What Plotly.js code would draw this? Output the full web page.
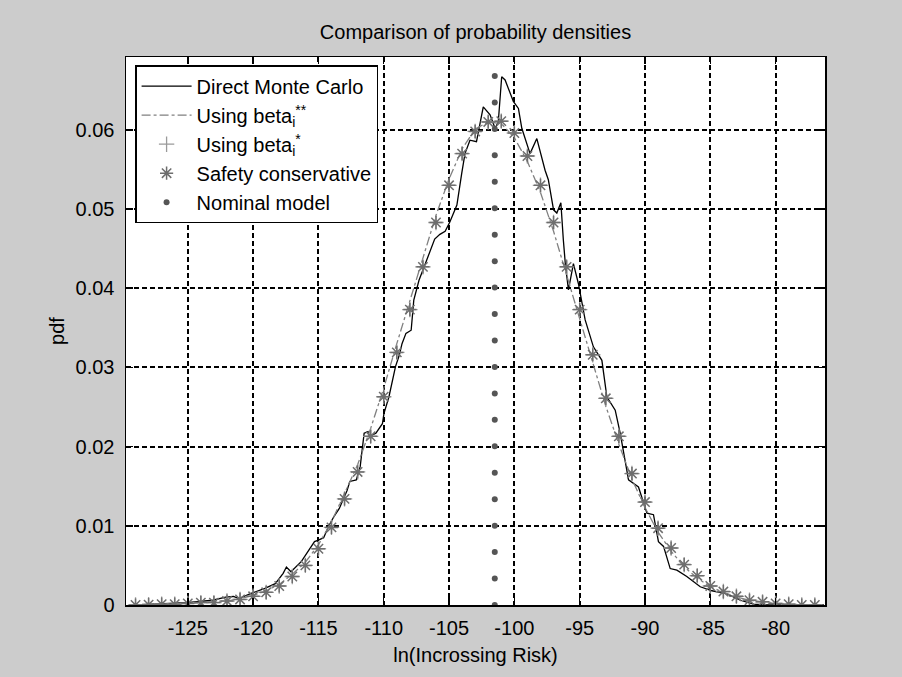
<!DOCTYPE html>
<html>
<head>
<meta charset="utf-8">
<script src="https://cdn.plot.ly/plotly-3.0.1.min.js"></script>
<style>html,body{margin:0;padding:0;background:#cccccc;}#chart{width:902px;height:677px;}</style>
</head>
<body>
<div id="chart"></div>
<script>
// Direct Monte Carlo (solid black line)
const mcX = [-129.0,-127.6,-125.1,-123.1,-122.1,-121.5,-121.1,-120.1,-119.1,-118.3,-117.7,-117.45,-117.1,-116.3,-115.8,-115.3,-115.0,-114.6,-114.2,-113.8,-113.4,-113.1,-112.8,-112.6,-112.1,-111.8,-111.6,-111.5,-111.2,-111.1,-110.6,-110.1,-109.98,-109.6,-109.1,-108.8,-108.6,-108.3,-107.9,-107.8,-107.7,-107.3,-106.9,-106.5,-106.1,-105.7,-105.3,-104.93,-104.4,-104.03,-103.78,-103.4,-102.9,-102.38,-101.86,-101.48,-101.23,-100.97,-100.71,-100.08,-99.69,-99.43,-98.8,-98.28,-97.65,-97.4,-97.0,-96.75,-96.44,-96.25,-96.1,-95.86,-95.48,-95.1,-94.58,-93.95,-93.3,-92.92,-92.28,-91.9,-91.64,-91.26,-90.5,-90.2,-89.85,-89.35,-88.97,-88.58,-88.07,-87.56,-86.8,-85.77,-84.87,-83.72,-82.7,-81.7,-80.5,-78.0,-76.3];
const mcY = [0.0,0.0001,0.0003,0.0006,0.0010,0.0011,0.0008,0.0015,0.0021,0.0027,0.0040,0.0048,0.0042,0.0055,0.0068,0.0080,0.0082,0.0085,0.0100,0.0112,0.0122,0.0133,0.0145,0.0156,0.0158,0.0175,0.0200,0.0217,0.0219,0.0213,0.0217,0.0229,0.0242,0.0263,0.0301,0.0316,0.0330,0.0343,0.0347,0.0368,0.0385,0.0410,0.0428,0.0445,0.0462,0.0468,0.0472,0.0484,0.0505,0.0545,0.0570,0.0587,0.0585,0.0629,0.0619,0.0602,0.0610,0.0667,0.0663,0.0636,0.0627,0.0602,0.0570,0.0589,0.0549,0.0537,0.0499,0.0495,0.0508,0.0461,0.0431,0.0398,0.0431,0.0406,0.0360,0.0326,0.0309,0.0263,0.0246,0.0217,0.0192,0.0158,0.0149,0.0133,0.0116,0.0114,0.0080,0.0074,0.0046,0.0044,0.0036,0.0023,0.0018,0.0014,0.0006,0.0001,0.0,0.0,0.0];

// common abscissa of the model curves
const gridX = [-129,-128,-127,-126,-125,-124,-123,-122,-121,-120,-119,-118,-117,-116,-115,-114,-113,-112,-111,-110,-109,-108,-107,-106,-105,-104,-103,-102,-101,-100,-99,-98,-97,-96,-95,-94,-93,-92,-91,-90,-89,-88,-87,-86,-85,-84,-83,-82,-81,-80,-79,-78,-77];

// Using beta_i** (dash-dot line)
const betaSS = [0.0,0.00005,0.0001,0.0001,0.0002,0.0003,0.0004,0.0005,0.0008,0.0012,0.0018,0.0026,0.0039,0.0054,0.0076,0.0105,0.0141,0.0177,0.0223,0.0274,0.0330,0.0384,0.0438,0.0492,0.0538,0.0576,0.0601,0.0610,0.0608,0.0590,0.0560,0.0521,0.0472,0.0416,0.0362,0.0305,0.0251,0.0203,0.0159,0.0123,0.0092,0.0068,0.0048,0.0034,0.0023,0.0016,0.0010,0.0006,0.0004,0.0002,0.0001,0.0,0.0];

// Using beta_i* (plus markers)
const betaS = [0.0,0.00005,0.0001,0.0001,0.0002,0.0003,0.0003,0.0005,0.0007,0.0011,0.0016,0.0024,0.0036,0.0050,0.0071,0.0098,0.0134,0.0168,0.0213,0.0263,0.0319,0.0373,0.0427,0.0483,0.0530,0.0570,0.0598,0.0610,0.0611,0.0596,0.0567,0.0530,0.0483,0.0427,0.0373,0.0316,0.0261,0.0213,0.0166,0.0130,0.0097,0.0072,0.0051,0.0037,0.0024,0.0017,0.0011,0.0006,0.0004,0.0002,0.0001,0.0,0.0];

// Safety conservative (asterisk markers)
const safety = [0.0,0.00005,0.0001,0.0001,0.0002,0.0003,0.0003,0.0005,0.0007,0.0011,0.0016,0.0024,0.0036,0.0050,0.0071,0.0098,0.0134,0.0168,0.0213,0.0263,0.0319,0.0373,0.0427,0.0483,0.0530,0.0570,0.0598,0.0610,0.0611,0.0596,0.0567,0.0530,0.0483,0.0427,0.0373,0.0316,0.0261,0.0213,0.0166,0.0130,0.0097,0.0072,0.0051,0.0037,0.0024,0.0017,0.0011,0.0006,0.0004,0.0002,0.0001,0.0,0.0];

// Nominal model (vertical column of dots)
const nominalX = -101.5;
const nominalY = [0.0,0.00334,0.00668,0.01002,0.01336,0.0167,0.02004,0.02338,0.02672,0.03006,0.0334,0.03674,0.04008,0.04342,0.04676,0.0501,0.05344,0.05678,0.06012,0.06346,0.0668];

const xTicks = [-125,-120,-115,-110,-105,-100,-95,-90,-85,-80];
const xTickText = ['-125','-120','-115','-110','-105','-100','-95','-90','-85','-80'];
const yTicks = [0,0.01,0.02,0.03,0.04,0.05,0.06];
const yTickText = ['0','0.01','0.02','0.03','0.04','0.05','0.06'];

const FONT = 'Liberation Sans, Arial, Helvetica, sans-serif';
const FS = 20;

const traces = [
  {x: mcX, y: mcY, mode: 'lines', name: 'Direct Monte Carlo',
   line: {color: '#000000', width: 1.3}},
  {x: gridX, y: betaSS, mode: 'lines', name: 'Using beta<sub>i</sub><sup>**</sup>',
   line: {color: '#808080', width: 1.3, dash: 'dashdot'}},
  {x: gridX, y: betaS, mode: 'markers', name: 'Using beta<sub>i</sub><sup>*</sup>',
   marker: {symbol: 'cross-thin-open', size: 11, color: '#9a9a9a', line: {color: '#9a9a9a', width: 1.3}}},
  {x: gridX, y: safety, mode: 'markers', name: 'Safety conservative',
   marker: {symbol: 'asterisk-open', size: 11, color: '#6e6e6e', line: {color: '#6e6e6e', width: 1.5}}},
  {x: nominalY.map(() => nominalX), y: nominalY, mode: 'markers', name: 'Nominal model',
   marker: {symbol: 'circle', size: 6, color: '#555555'}}
];

const layout = {
  width: 902, height: 677,
  paper_bgcolor: '#cccccc',
  plot_bgcolor: '#ffffff',
  margin: {l: 126, r: 77, t: 57, b: 72, pad: 0},
  font: {family: FONT, size: FS, color: '#000000'},
  title: {text: 'Comparison of probability densities', font: {family: FONT, size: FS, color: '#000'},
          x: 0.5, xref: 'paper', xanchor: 'center', y: 1 - 32/677, yref: 'container', yanchor: 'middle'},
  showlegend: true,
  legend: {x: 0.013, y: 0.985, xanchor: 'left', yanchor: 'top', bgcolor: '#ffffff',
           bordercolor: '#000000', borderwidth: 1.5, font: {family: FONT, size: FS, color: '#000'},
           tracegroupgap: 0, itemwidth: 50},
  xaxis: {
    range: [-129.73, -76.22], tickmode: 'array', tickvals: xTicks, ticktext: xTickText,
    ticks: 'inside', ticklen: 7, tickwidth: 1.5, tickcolor: '#000',
    showline: true, linecolor: '#000', linewidth: 1.5, mirror: 'ticks',
    showgrid: true, gridcolor: '#000', gridwidth: 2, griddash: '5px,3px',
    zeroline: false, ticklabelstandoff: 4,
    title: {text: 'ln(Incrossing Risk)', font: {family: FONT, size: FS, color: '#000'}, standoff: 10}
  },
  yaxis: {
    range: [0, 0.0692], tickmode: 'array', tickvals: yTicks, ticktext: yTickText,
    ticks: 'inside', ticklen: 7, tickwidth: 1.5, tickcolor: '#000',
    showline: true, linecolor: '#000', linewidth: 1.5, mirror: 'ticks',
    showgrid: true, gridcolor: '#000', gridwidth: 2, griddash: '5px,3px',
    zeroline: false, ticklabelstandoff: 6,
    title: {text: 'pdf', font: {family: FONT, size: FS, color: '#000'}, standoff: 5}
  }
};

Plotly.newPlot('chart', traces, layout, {displayModeBar: false, staticPlot: true});
</script>
</body>
</html>
